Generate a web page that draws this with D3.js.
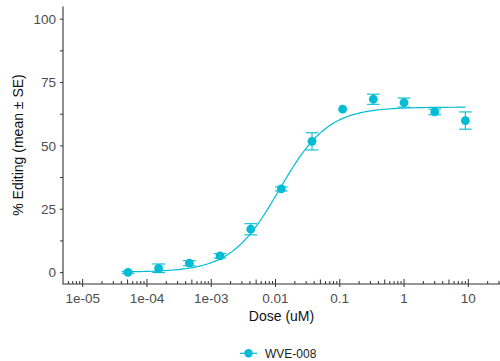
<!DOCTYPE html>
<html><head><meta charset="utf-8">
<script src="https://cdn.jsdelivr.net/npm/d3@7"></script>
<style>body{margin:0;background:#fff}svg{display:block}</style>
</head><body>
<svg id="c" width="500" height="361"></svg>
<script>
// Data
const doses = [5.08e-5, 1.52e-4, 4.57e-4, 1.37e-3, 4.12e-3, 0.0123, 0.037, 0.111, 0.333, 1, 3, 9];
const editing = [0.1, 1.7, 3.7, 6.6, 17.1, 33.0, 51.8, 64.5, 68.4, 67.1, 63.4, 60.0];
const se = [0.4, 1.7, 1.0, 0.9, 2.2, 0.8, 3.4, null, 2.0, 1.8, 1.1, 3.4];
// 4-parameter logistic fit: [bottom, top, EC50, hill]
const fitParams = [0.2, 65.3, 0.0115, 1.15];
const xTickLabels = ["1e-05", "1e-04", "1e-03", "0.01", "0.1", "1", "10"];
const xTickValues = [1e-5, 1e-4, 1e-3, 0.01, 0.1, 1, 10];
const yTickValues = [0, 25, 50, 75, 100];
const seriesName = "WVE-008";

const color = "#00BCD4";
const svg = d3.select("#c");
const x = d3.scaleLog().domain([Math.pow(10, -5.306), Math.pow(10, 1.493)]).range([63, 500]);
const y = d3.scaleLinear().domain([-4.5, 105]).range([284, 6.5]);
const axisY = 284, axisX = 63;

// fitted curve
const [b, t, ec, h] = fitParams;
const f = d => b + (t - b) / (1 + Math.pow(ec / d, h));
const lo = Math.log10(d3.min(doses)), hi = Math.log10(d3.max(doses));
const curvePts = d3.range(0, 201).map(i => Math.pow(10, lo + (hi - lo) * i / 200));
svg.append("path")
  .attr("d", d3.line().x(d => x(d)).y(d => y(f(d))).curve(d3.curveLinear)(curvePts))
  .attr("fill", "none").attr("stroke", color).attr("stroke-width", 1.2);

// error bars
const eb = svg.append("g").attr("stroke", color).attr("stroke-width", 1.1).attr("fill", "none");
doses.forEach((d, i) => {
  if (se[i] == null) return;
  const cx = x(d), y1 = y(editing[i] + se[i]), y0 = y(editing[i] - se[i]), w = 6.3;
  eb.append("line").attr("x1", cx).attr("x2", cx).attr("y1", y1).attr("y2", y0);
  eb.append("line").attr("x1", cx - w).attr("x2", cx + w).attr("y1", y1).attr("y2", y1);
  eb.append("line").attr("x1", cx - w).attr("x2", cx + w).attr("y1", y0).attr("y2", y0);
});

// points
svg.append("g").selectAll("circle").data(doses).join("circle")
  .attr("cx", d => x(d)).attr("cy", (d, i) => y(editing[i])).attr("r", 4.4).attr("fill", color);

// log ticks on x axis
const ticks = svg.append("g").attr("stroke", "#333").attr("stroke-width", 1);
for (let e = -6; e <= 1; e++) {
  for (let m = 1; m <= 9; m++) {
    const v = m * Math.pow(10, e);
    const px = x(v);
    if (px < axisX + 0.5 || px > 500) continue;
    let top, bottom;
    if (m === 1) { top = axisY - 5; bottom = axisY + 3; }
    else if (m === 5) { top = axisY - 4.5; bottom = axisY; }
    else { top = axisY - 3; bottom = axisY; }
    ticks.append("line").attr("x1", px).attr("x2", px).attr("y1", top).attr("y2", bottom);
  }
}
// y ticks (major + minor)
d3.range(0, 101, 12.5).forEach(v => {
  ticks.append("line").attr("x1", axisX - 3).attr("x2", axisX).attr("y1", y(v)).attr("y2", y(v));
});

// axis lines
svg.append("path").attr("d", `M${axisX},6.5V${axisY}H500`).attr("fill", "none")
  .attr("stroke", "#333").attr("stroke-width", 1.1);

// tick labels
const font = "Liberation Sans, Arial, sans-serif";
svg.append("g").selectAll("text").data(xTickValues).join("text")
  .attr("x", d => x(d)).attr("y", 303).attr("text-anchor", "middle")
  .attr("font-family", font).attr("font-size", 13.5).attr("fill", "#4D4D4D")
  .text((d, i) => xTickLabels[i]);
svg.append("g").selectAll("text").data(yTickValues).join("text")
  .attr("x", 56).attr("y", d => y(d)).attr("dy", "0.36em").attr("text-anchor", "end")
  .attr("font-family", font).attr("font-size", 13.5).attr("fill", "#4D4D4D")
  .text(d => d);

// axis titles
svg.append("text").attr("x", 281.5).attr("y", 321).attr("text-anchor", "middle")
  .attr("font-family", font).attr("font-size", 14).attr("fill", "#111").text("Dose (uM)");
svg.append("text").attr("transform", `translate(23,145) rotate(-90)`).attr("text-anchor", "middle")
  .attr("font-family", font).attr("font-size", 14).attr("fill", "#111").text("% Editing (mean \u00B1 SE)");

// legend
const lg = svg.append("g");
lg.append("line").attr("x1", 240).attr("x2", 257).attr("y1", 353.3).attr("y2", 353.3)
  .attr("stroke", color).attr("stroke-width", 1.2);
lg.append("circle").attr("cx", 248.5).attr("cy", 353.3).attr("r", 4.2).attr("fill", color);
lg.append("text").attr("x", 265).attr("y", 357.8).attr("font-family", font).attr("font-size", 12)
  .attr("fill", "#222").text(seriesName);
</script>
</body></html>
